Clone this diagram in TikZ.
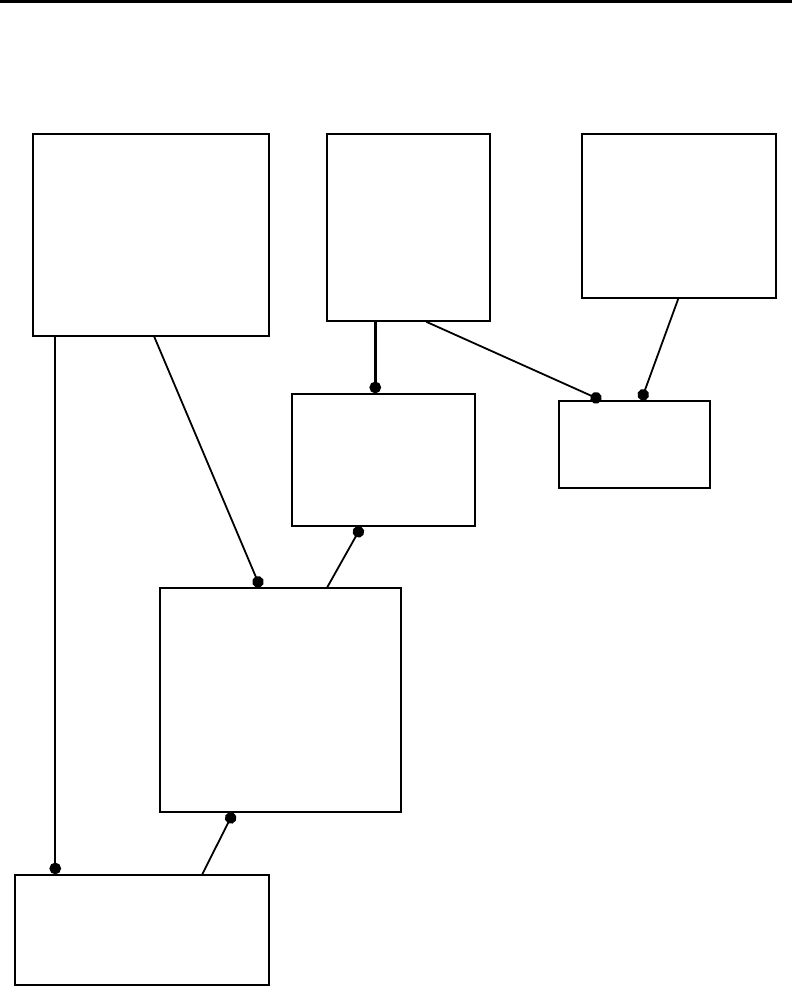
\documentclass[tikz,border=0pt]{standalone}
\usepackage{tikz}
\usetikzlibrary{arrows.meta}

\tikzset{
  box/.style={draw, rectangle, inner sep=0pt, line width=0.75pt},
  link/.style={line width=0.9pt, -{Circle[length=5.8pt]}}
}

\begin{document}
\begin{tikzpicture}[x=0.5pt, y=-0.5pt]
            \useasboundingbox (0,0) rectangle (792,986);
            \draw[line width=1.2pt] (0,1.5) -- (792,1.5);
            \node[box, minimum width=118pt,   minimum height=101pt]  (a) at (151,235)     {};
            \node[box, minimum width=81.5pt,  minimum height=93.5pt] (b) at (408.5,227.5) {};
            \node[box, minimum width=97pt,    minimum height=82pt]   (c) at (679,216)     {};
            \node[box, minimum width=91.5pt,  minimum height=66pt]   (d) at (383.5,460)   {};
            \node[box, minimum width=75.5pt,  minimum height=43.5pt] (e) at (634.5,444.5) {};
            \node[box, minimum width=120.5pt, minimum height=112pt]  (f) at (280.5,700)   {};
            \node[box, minimum width=127pt,   minimum height=55pt]   (g) at (142,930)     {};
            \draw[link] ([xshift=11.5pt]a.south west) -- ([xshift=20.5pt]g.north west);
            \draw[link] ([xshift=61pt]a.south west) -- ([xshift=50.5pt]f.north west);
            \draw[link, line width=1.4pt] ([xshift=24.5pt]b.south west) -- ([xshift=42pt]d.north west);
            \draw[link] ([xshift=50pt]b.south west) -- ([xshift=21.5pt]e.north west);
            \draw[link] ([xshift=48.5pt]c.south west) -- ([xshift=41.5pt]e.north west);
            \draw[link] ([xshift=84pt]f.north west) -- ([xshift=35pt]d.south west);
            \draw[link] ([xshift=94pt]g.north west) -- ([xshift=37pt]f.south west);
        \end{tikzpicture}
\end{document}
